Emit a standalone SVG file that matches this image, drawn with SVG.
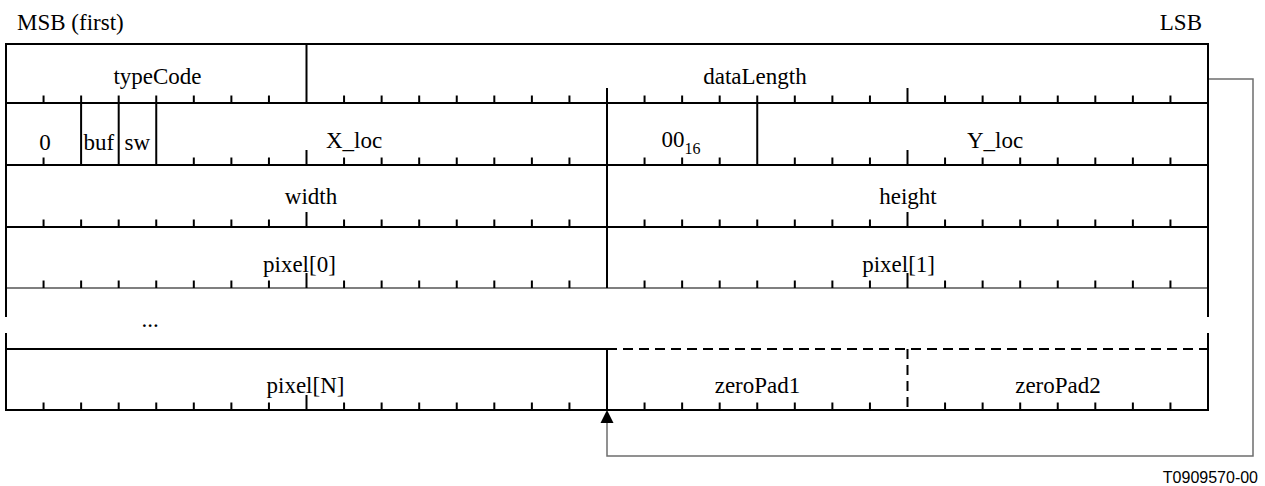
<svg xmlns="http://www.w3.org/2000/svg" width="1265" height="486" viewBox="0 0 1265 486">
<style>
.t{font-family:"Liberation Serif","Times New Roman",serif;font-size:23px;fill:#000}
.m{text-anchor:middle}
.e{text-anchor:end}
.ln{stroke:#000;stroke-width:2;fill:none}
.thin{stroke:#000;stroke-width:1.2;fill:none}
.dash{stroke:#000;stroke-width:2;fill:none;stroke-dasharray:10,6}
.tk{stroke:#000;stroke-width:2}
.conn{stroke:#6e6e6e;stroke-width:1.5;fill:none}
.id{font-family:"Liberation Sans",Arial,sans-serif;font-size:16px;fill:#000;text-anchor:end}
</style>
<defs>
<path id="minor" d="M0,-7.5V0" class="tk"/>
<path id="tall" d="M0,-15V0" class="tk"/>
</defs>
<rect width="1265" height="486" fill="#fff"/>
<text class="t" x="17" y="30">MSB (first)</text>
<text class="t e" x="1202" y="30">LSB</text>
<g id="frame">
<path class="ln" d="M6,44H1208M6,103H1208M6,165H1208M6,227H1208M6,349H607M6,410H1208"/>
<path class="thin" d="M6,288H1208"/>
<path class="dash" d="M607,349H1208"/>
<path class="ln" d="M6,43V317M6,333V411M1208,43V317M1208,333V411"/>
<path class="ln" d="M306.5,44V103M81.1,103V165M118.7,103V165M156.25,103V165M757.25,103V165M607,88V288M607,349V410"/>
<path class="dash" d="M907.5,349V410"/>
</g>
<g id="ticks">
<g transform="translate(0,103)">
<use href="#minor" x="43.56"/><use href="#minor" x="81.13"/><use href="#minor" x="118.69"/><use href="#minor" x="156.25"/><use href="#minor" x="193.81"/><use href="#minor" x="231.38"/><use href="#minor" x="268.94"/>
<use href="#minor" x="344.06"/><use href="#minor" x="381.63"/><use href="#minor" x="419.19"/><use href="#minor" x="456.75"/><use href="#minor" x="494.31"/><use href="#minor" x="531.88"/><use href="#minor" x="569.44"/>
<use href="#minor" x="644.56"/><use href="#minor" x="682.13"/><use href="#minor" x="719.69"/><use href="#minor" x="757.25"/><use href="#minor" x="794.81"/><use href="#minor" x="832.38"/><use href="#minor" x="869.94"/>
<use href="#tall" x="907.5"/>
<use href="#minor" x="945.06"/><use href="#minor" x="982.63"/><use href="#minor" x="1020.19"/><use href="#minor" x="1057.75"/><use href="#minor" x="1095.31"/><use href="#minor" x="1132.88"/><use href="#minor" x="1170.44"/>
</g>
<g transform="translate(0,165)">
<use href="#minor" x="43.56"/><use href="#minor" x="193.81"/><use href="#minor" x="231.38"/><use href="#minor" x="268.94"/>
<use href="#tall" x="306.5"/>
<use href="#minor" x="344.06"/><use href="#minor" x="381.63"/><use href="#minor" x="419.19"/><use href="#minor" x="456.75"/><use href="#minor" x="494.31"/><use href="#minor" x="531.88"/><use href="#minor" x="569.44"/>
<use href="#minor" x="644.56"/><use href="#minor" x="682.13"/><use href="#minor" x="719.69"/><use href="#minor" x="794.81"/><use href="#minor" x="832.38"/><use href="#minor" x="869.94"/>
<use href="#tall" x="907.5"/>
<use href="#minor" x="945.06"/><use href="#minor" x="982.63"/><use href="#minor" x="1020.19"/><use href="#minor" x="1057.75"/><use href="#minor" x="1095.31"/><use href="#minor" x="1132.88"/><use href="#minor" x="1170.44"/>
</g>
<g id="rowticks">
<use href="#minor" x="43.56"/><use href="#minor" x="81.13"/><use href="#minor" x="118.69"/><use href="#minor" x="156.25"/><use href="#minor" x="193.81"/><use href="#minor" x="231.38"/><use href="#minor" x="268.94"/>
<use href="#tall" x="306.5"/>
<use href="#minor" x="344.06"/><use href="#minor" x="381.63"/><use href="#minor" x="419.19"/><use href="#minor" x="456.75"/><use href="#minor" x="494.31"/><use href="#minor" x="531.88"/><use href="#minor" x="569.44"/>
<use href="#minor" x="644.56"/><use href="#minor" x="682.13"/><use href="#minor" x="719.69"/><use href="#minor" x="757.25"/><use href="#minor" x="794.81"/><use href="#minor" x="832.38"/><use href="#minor" x="869.94"/>
<use href="#minor" x="945.06"/><use href="#minor" x="982.63"/><use href="#minor" x="1020.19"/><use href="#minor" x="1057.75"/><use href="#minor" x="1095.31"/><use href="#minor" x="1132.88"/><use href="#minor" x="1170.44"/>
</g>
<use href="#rowticks" transform="translate(0,227)"/>
<use href="#tall" x="907.5" y="227"/>
<use href="#rowticks" transform="translate(0,288)"/>
<use href="#tall" x="907.5" y="288"/>
<use href="#rowticks" transform="translate(0,410)"/>
</g>
<g id="typeCode"><text class="t m" x="157.5" y="84">typeCode</text></g>
<g id="dataLength"><text class="t m" x="755" y="84">dataLength</text></g>
<g id="zeroBit"><text class="t m" x="45" y="150">0</text></g>
<g id="buf"><text class="t" x="83.5" y="150">buf</text></g>
<g id="sw"><text class="t" x="124.5" y="150">sw</text></g>
<g id="X_loc"><text class="t" x="326" y="148">X_loc</text></g>
<g id="pad16"><text class="t" x="661.5" y="147">00<tspan font-size="16" dy="7">16</tspan></text></g>
<g id="Y_loc"><text class="t" x="967" y="148">Y_loc</text></g>
<g id="width"><text class="t m" x="311" y="204">width</text></g>
<g id="height"><text class="t m" x="908" y="204">height</text></g>
<g id="pixel0"><text class="t" x="263" y="272">pixel[0]</text></g>
<g id="pixel1"><text class="t e" x="935" y="272">pixel[1]</text></g>
<g id="ellipsis"><text class="t m" x="150" y="327">...</text></g>
<g id="pixelN"><text class="t" x="266.5" y="393">pixel[N]</text></g>
<g id="zeroPad1"><text class="t m" x="757.5" y="393">zeroPad1</text></g>
<g id="zeroPad2"><text class="t m" x="1058" y="393">zeroPad2</text></g>
<g id="connectors">
<path class="conn" d="M1209,79H1253V456H607V422"/>
<polygon points="607,410 600.5,423 613.5,423" fill="#000"/>
</g>
<text class="id" x="1258" y="483">T0909570-00</text>
</svg>
